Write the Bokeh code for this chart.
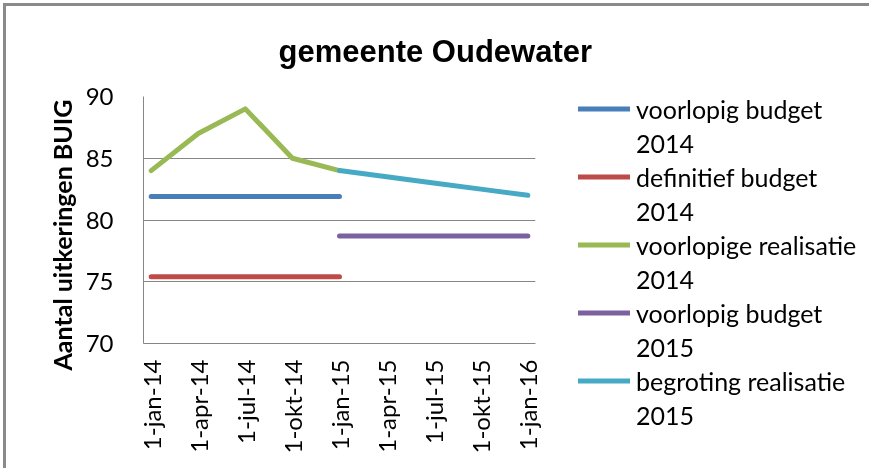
import math
from bokeh.plotting import figure
from bokeh.models import Range1d, FixedTicker, Legend, LegendItem, Title
from bokeh.embed import file_html
from bokeh.resources import INLINE

# ---- data ----
dates = ["1-jan-14", "1-apr-14", "1-jul-14", "1-okt-14", "1-jan-15",
         "1-apr-15", "1-jul-15", "1-okt-15", "1-jan-16"]
dates_2014 = ["1-jan-14", "1-apr-14", "1-jul-14", "1-okt-14", "1-jan-15"]
dates_2015 = ["1-jan-15", "1-apr-15", "1-jul-15", "1-okt-15", "1-jan-16"]

voorlopig_budget_2014 = [81.9, 81.9, 81.9, 81.9, 81.9]
definitief_budget_2014 = [75.4, 75.4, 75.4, 75.4, 75.4]
voorlopige_realisatie_2014 = [84, 87, 89, 85, 84]
voorlopig_budget_2015 = [78.7, 78.7, 78.7, 78.7, 78.7]
begroting_realisatie_2015 = [84, 83.5, 83, 82.5, 82]

series_names = ["voorlopig budget 2014", "definitief budget 2014",
                "voorlopige realisatie 2014", "voorlopig budget 2015",
                "begroting realisatie 2015"]
series_colors = ["#4A7EBB", "#BE4B48", "#98B954", "#7D60A0", "#46AAC5"]
y_ticks = [70, 75, 80, 85, 90]

title_text = "gemeente Oudewater"
y_title = "Aantal uitkeringen BUIG"

FONT = "Lato"

x14 = [dates.index(d) for d in dates_2014]
x15 = [dates.index(d) for d in dates_2015]

p = figure(frame_width=392, frame_height=247, output_backend="svg",
           toolbar_location=None,
           x_range=Range1d(-0.163, 8.163), y_range=Range1d(70, 90),
           min_border_left=137, min_border_right=320, min_border_top=90,
           min_border_bottom=118)
p.outline_line_color = None
p.background_fill_color = "white"
p.border_fill_color = "white"

p.title = Title(text=title_text, align="left", offset=135,
                text_font="Liberation Sans", text_font_style="bold",
                text_font_size="31px", text_color="black", standoff=51,
                vertical_align="top")

# axes
p.xaxis.ticker = FixedTicker(ticks=list(range(len(dates))))
p.xaxis.major_label_overrides = {i: d for i, d in enumerate(dates)}
p.xaxis.major_label_orientation = math.pi / 2
p.xaxis.major_label_text_font = FONT
p.xaxis.major_label_text_font_size = "24px"
p.xaxis.major_label_text_color = "black"
p.xaxis.major_label_standoff = 16
p.xaxis.major_tick_out = 0
p.xaxis.major_tick_in = 0
p.xaxis.major_tick_line_color = None
p.xaxis.minor_tick_line_color = None
p.xaxis.axis_line_color = "#868686"

p.yaxis.ticker = FixedTicker(ticks=y_ticks)
p.yaxis.major_label_text_font = FONT
p.yaxis.major_label_text_font_size = "24px"
p.yaxis.major_label_text_color = "black"
p.yaxis.major_label_standoff = 30
p.yaxis.major_tick_out = 0
p.yaxis.major_tick_in = 0
p.yaxis.major_tick_line_color = None
p.yaxis.minor_tick_line_color = None
p.yaxis.axis_line_color = "#868686"

p.add_layout(Title(text=y_title, align="left", offset=-27,
                   text_font=FONT, text_font_style="bold",
                   text_font_size="25px", text_color="black", standoff=12),
             "left")

p.xgrid.grid_line_color = None
p.ygrid.grid_line_color = "#868686"
p.ygrid.ticker = FixedTicker(ticks=y_ticks)

lw = 5
r1 = p.line(x14, voorlopig_budget_2014, line_color=series_colors[0], line_width=lw, line_cap="round")
r2 = p.line(x14, definitief_budget_2014, line_color=series_colors[1], line_width=lw, line_cap="round")
r3 = p.line(x14, voorlopige_realisatie_2014, line_color=series_colors[2], line_width=lw, line_cap="round", line_join="round")
r4 = p.line(x15, voorlopig_budget_2015, line_color=series_colors[3], line_width=lw, line_cap="round")
r5 = p.line(x15, begroting_realisatie_2015, line_color=series_colors[4], line_width=lw, line_cap="round", line_join="round")
renderers = [r1, r2, r3, r4, r5]

dummy = p.line(x=[], y=[], line_alpha=0)

items = []
for r, name in zip(renderers, series_names):
    first, second = name.rsplit(" ", 1)
    items.append(LegendItem(label=first, renderers=[r]))
    items.append(LegendItem(label=second, renderers=[dummy]))

legend = Legend(items=items, location=(43, -88), orientation="vertical",
                border_line_color=None, background_fill_alpha=0,
                padding=0, margin=0, spacing=1,
                glyph_width=52, glyph_height=33, label_height=33,
                label_standoff=6, label_text_font=FONT,
                label_text_font_size="25px", label_text_color="black",
                label_text_baseline="middle")
p.add_layout(legend, "right")

html = file_html(p, INLINE)
css = ("<style>html, body {margin:0; padding:0; overflow:hidden;} "
       "body {box-sizing:border-box; padding: 6px 0 0 6px;} "
       "body::before {content:''; position:fixed; left:3px; top:3px; "
       "right:-10px; bottom:-10px; border-left:3px solid #8a8a8a; "
       "border-top:3px solid #8a8a8a; pointer-events:none;} "
       "body::after {content:''; position:fixed; right:0; top:6px; "
       "width:6px; bottom:0; background:white; z-index:9999; "
       "pointer-events:none;}</style>")
html = html.replace("</head>", css + "</head>", 1)
open("out.html", "w").write(html)
